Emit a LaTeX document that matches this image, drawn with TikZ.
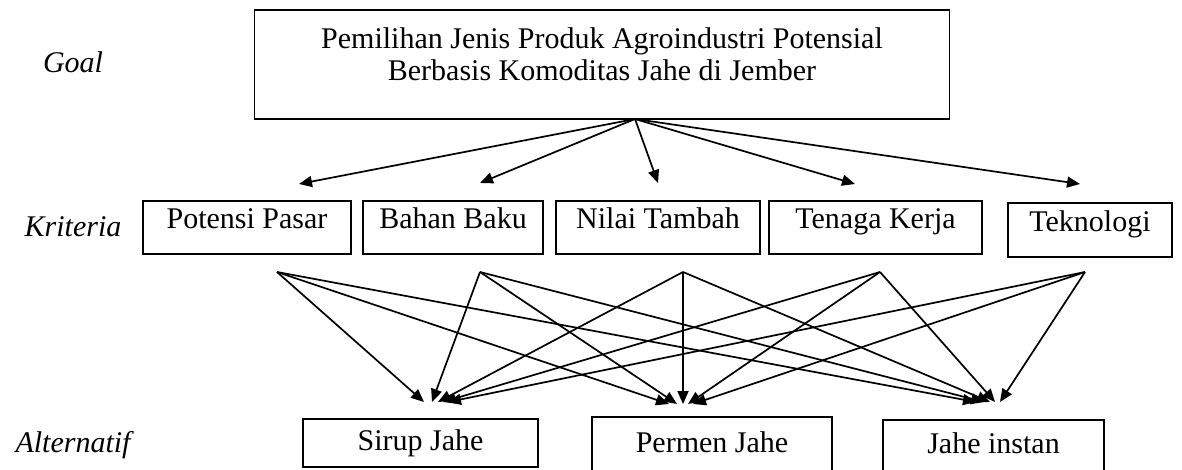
\documentclass[tikz,border=0pt]{standalone}
\usepackage{fontspec}
\setmainfont{Liberation Serif}
\usetikzlibrary{arrows.meta,calc}
\begin{document}
\begin{tikzpicture}[x=1pt,y=-1pt,
  box/.style={draw,line width=1.7pt,inner sep=0pt,font=\fontsize{30}{34}\selectfont},
  crit/.style={box,minimum height=53pt,text height=21pt,text depth=18pt},
  alt/.style={box,text height=21pt,text depth=7pt},
  lvl/.style={font=\fontsize{30}{34}\selectfont\itshape},
  link/.style={line width=1.7pt,-{Triangle[length=13pt,width=11pt]}}]
\useasboundingbox (0,0) rectangle (1182,470);

% level labels
\node[lvl] (lgoal) at (73,62) {Goal};
\node[lvl] (lkrit) at (73,227) {Kriteria};
\node[lvl] (lalt) at (73,445) {Alternatif};

% goal box with its two-line title
\node[box,minimum width=695pt,minimum height=109pt] (goal) at (602,64.5) {};
\node[align=center,font=\fontsize{30}{32}\selectfont,anchor=north] (goaltxt) at (602,24)
  {Pemilihan Jenis Produk Agroindustri Potensial\\Berbasis Komoditas Jahe di Jember};

% criteria boxes
\node[crit,minimum width=208pt] (k1) at (247,227.5) {Potensi Pasar};
\node[crit,minimum width=180pt] (k2) at (453,227.5) {Bahan Baku};
\node[crit,minimum width=204pt] (k3) at (658,227.5) {Nilai Tambah};
\node[crit,minimum width=213pt] (k4) at (875.5,227.5) {Tenaga Kerja};
\node[crit,minimum width=164pt,minimum height=54pt] (k5) at (1090,230) {Teknologi};

% alternative boxes
\node[alt,minimum width=235pt,minimum height=48pt] (a1) at (420.5,443) {Sirup Jahe};
\node[alt,minimum width=240pt,minimum height=56pt] (a2) at (712,445) {Permen Jahe};
\node[alt,minimum width=221pt,minimum height=52pt] (a3) at (993.5,446) {Jahe instan};

% goal -> criteria
\coordinate (gout) at (635,119);
\coordinate (t1) at (299,184);
\coordinate (t2) at (480,183);
\coordinate (t3) at (658,183);
\coordinate (t4) at (855,184);
\coordinate (t5) at (1080,184);
\foreach \t in {t1,t2,t3,t4,t5} \draw[link] (gout) -- (\t);

% criteria -> alternatives
\coordinate (s1) at (277,272);
\coordinate (s2) at (480,272);
\coordinate (s3) at (683,272);
\coordinate (s4) at (880,272);
\coordinate (s5) at (1085,272);
\coordinate (p1) at (438,402);
\coordinate (p2) at (683,404);
\coordinate (p3) at (990,402);
\foreach \s/\dx in {s1/-14,s2/-6,s3/0,s4/5,s5/10}{
  \foreach \p in {p1,p2,p3}{
    \draw[link] (\s) -- ($(\p)+(\dx,0)$);
  }
}
\end{tikzpicture}
\end{document}
